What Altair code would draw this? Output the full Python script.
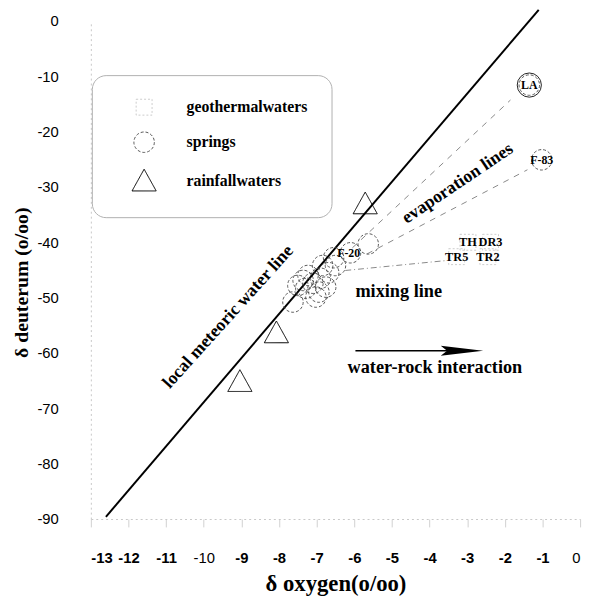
import altair as alt
import pandas as pd

# ---- data ----
x_ticks = list(range(-13, 1))
y_ticks = list(range(-90, 1, 10))

types = ["geothermalwaters", "springs", "rainfallwaters"]

geo_x = [-2.98, -2.38, -3.28, -2.45]
geo_y = [-40.0, -40.0, -42.6, -42.6]
geo_lab = ["TH", "DR3", "TR5", "TR2"]

spring_x = [-7.63, -5.63, -6.10, -6.55, -6.84, -6.50, -7.23, -7.10, -6.90,
            -6.68, -7.36, -6.94, -6.76, -7.29, -7.02, -7.50, -1.35, -1.02]
spring_y = [-50.8, -40.3, -41.9, -42.8, -44.2, -44.2, -46.0, -47.4, -46.5,
            -45.5, -46.9, -49.0, -48.1, -48.3, -49.9, -47.8, -11.6, -25.1]

la_x = [-1.35]
la_y = [-11.6]

rain_x = [-5.71, -8.07, -9.04]
rain_y = [-33.0, -56.3, -65.1]

plab_text = ["LA", "F-83", "F-20"]
plab_x = [-1.35, -1.02, -6.15]
plab_y = [-11.6, -25.1, -41.9]

lmwl_x = [-12.6, -1.1]
lmwl_y = [-89.6, 2.0]

evap_id = ["a", "a", "b", "b"]
evap_x = [-6.05, -1.85, -5.66, -1.40]
evap_y = [-41.0, -14.3, -42.1, -26.9]

mix_x = [-6.24, -3.55]
mix_y = [-45.1, -43.3]

arrow_x = [-5.97, -3.0]
arrow_y = [-59.6, -59.6]
head_x = [-3.14]
head_y = [-59.6]

rot_text = ["local meteoric water line", "evaporation lines"]
rot_x = [-9.35, -3.25]
rot_y = [-53.5, -29.4]
rot_angle = [312, 326]

left_text = ["mixing line", "water-rock interaction"]
left_x = [-5.97, -6.18]
left_y = [-48.9, -62.6]

# ---- tables ----
pts = pd.DataFrame({
    "x": geo_x + spring_x + rain_x,
    "y": geo_y + spring_y + rain_y,
    "type": [types[0]] * len(geo_x) + [types[1]] * len(spring_x) + [types[2]] * len(rain_x),
})
geo_df = pd.DataFrame({"x": geo_x, "y": geo_y, "t": geo_lab})
plab_df = pd.DataFrame({"x": plab_x, "y": plab_y, "t": plab_text})
la_df = pd.DataFrame({"x": la_x, "y": la_y})
lmwl_df = pd.DataFrame({"x": lmwl_x, "y": lmwl_y})
evap_df = pd.DataFrame({"x": evap_x, "y": evap_y, "id": evap_id})
mix_df = pd.DataFrame({"x": mix_x, "y": mix_y})
arrow_df = pd.DataFrame({"x": arrow_x, "y": arrow_y})
head_df = pd.DataFrame({"x": head_x, "y": head_y})
rot_df = pd.DataFrame({"x": rot_x, "y": rot_y, "t": rot_text, "a": rot_angle})
left_df = pd.DataFrame({"x": left_x, "y": left_y, "t": left_text})

SERIF = "Liberation Serif"
SANS = "Liberation Sans"

xs = alt.Scale(domain=[-13, 0], nice=False, zero=False)
ys = alt.Scale(domain=[-90, 0], nice=False, zero=False)

xaxis = alt.Axis(
    values=x_ticks, labelExpr="toString(datum.value)", title="δ oxygen(o/oo)",
    grid=False, domainColor="#c8c8c8", domainDash=[2, 3], tickColor="#d0d0d0",
    tickSize=8, labelPadding=24, labelFont=SANS, labelFontSize=15,
    labelFontWeight={"condition": {"test": "datum.value == -10 || datum.value == 0", "value": "normal"}, "value": "bold"},
    labelColor="black", titleFont=SERIF, titleFontSize=23, titleFontWeight="bold",
    titleColor="black", titleY=65, titleBaseline="middle",
)
yaxis = alt.Axis(
    values=y_ticks, labelExpr="toString(datum.value)", title="δ deuterum (o/oo)",
    grid=False, domainColor="#c8c8c8", domainDash=[2, 3], ticks=False,
    labelPadding=33, labelFont=SANS, labelFontSize=15, labelColor="black",
    titleFont=SERIF, titleFontSize=20, titleFontWeight="bold", titleColor="black",
    titleX=-70, titleY=265, titleAngle=270, titleAlign="center", titleBaseline="middle",
)


def X():
    return alt.X("x:Q", scale=xs, axis=xaxis)


def Y():
    return alt.Y("y:Q", scale=ys, axis=yaxis)


tri = "M-1,0.85L0,-0.95L1,0.85Z"
leg = alt.Legend(
    title=None, orient="none", legendX=1, legendY=55, padding=24, rowPadding=12,
    symbolOffset=16, labelOffset=30, symbolSize=289, labelFont=SERIF, labelFontSize=16,
    labelFontWeight="bold", labelColor="black", strokeColor="#b0b0b0", cornerRadius=14,
)

points = alt.Chart(pts).mark_point(filled=False, opacity=1).encode(
    x=X(), y=Y(),
    shape=alt.Shape("type:N", scale=alt.Scale(domain=types, range=["square", "circle", tri]), legend=leg),
    color=alt.Color("type:N", scale=alt.Scale(domain=types, range=["#c0c0c0", "#444444", "#000000"]), legend=leg),
    strokeDash=alt.StrokeDash("type:N", scale=alt.Scale(domain=types, range=[[2, 2], [3, 2], [1, 0]]), legend=leg),
    strokeWidth=alt.StrokeWidth("type:N", scale=alt.Scale(domain=types, range=[0.8, 1.0, 2.5]), legend=leg),
    size=alt.Size("type:N", scale=alt.Scale(domain=types, range=[260, 600, 500]), legend=None),
)

la_ring = alt.Chart(la_df).mark_point(filled=False, opacity=1, shape="circle", size=600, color="#222222",
                                      strokeWidth=1).encode(x=X(), y=Y())

lmwl = alt.Chart(lmwl_df).mark_line(color="black", strokeWidth=2).encode(x=X(), y=Y())
evap = alt.Chart(evap_df).mark_line(color="#888888", strokeWidth=1, strokeDash=[6, 6]).encode(
    x=X(), y=Y(), detail="id:N")
mix = alt.Chart(mix_df).mark_line(color="#888888", strokeWidth=1, strokeDash=[6, 3, 1, 3]).encode(x=X(), y=Y())
arrow = alt.Chart(arrow_df).mark_line(color="black", strokeWidth=1.5).encode(x=X(), y=Y())
head = alt.Chart(head_df).mark_point(
    shape="M-1,-0.23L1,0L-1,0.23L-0.7,0Z", filled=True, size=1849, color="black", opacity=1
).encode(x=X(), y=Y())

geo_text = alt.Chart(geo_df).mark_text(font=SERIF, fontWeight="bold", fontSize=12.5, color="black").encode(
    x=X(), y=Y(), text="t:N")
p_text = alt.Chart(plab_df).mark_text(font=SERIF, fontWeight="bold", fontSize=12, color="black").encode(
    x=X(), y=Y(), text="t:N")
rot = alt.Chart(rot_df).mark_text(font=SERIF, fontWeight="bold", fontSize=18, color="black", align="center",
                                  baseline="middle").encode(
    x=X(), y=Y(), text="t:N", angle=alt.Angle("a:Q", scale=None))
left = alt.Chart(left_df).mark_text(font=SERIF, fontWeight="bold", fontSize=18.5, color="black", align="left",
                                    baseline="middle").encode(x=X(), y=Y(), text="t:N")

chart = alt.layer(lmwl, evap, mix, arrow, head, points, la_ring, geo_text, p_text, rot, left).properties(
    width=496, height=505, autosize="none",
    padding={"left": 84, "top": 9, "right": 8, "bottom": 74},
    background="white",
).configure_view(stroke=None)

chart.save("out.html", embed_options={"renderer": "svg", "actions": False})
